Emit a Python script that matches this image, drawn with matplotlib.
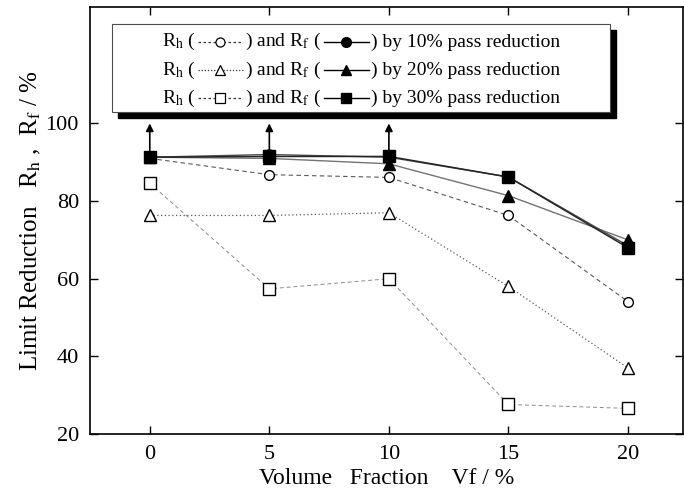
import numpy as np
import matplotlib
matplotlib.use('Agg')
import matplotlib.pyplot as plt
from matplotlib.patches import Rectangle
from matplotlib.lines import Line2D
from matplotlib.offsetbox import (TextArea, DrawingArea, HPacker, VPacker,
                                  AnchoredOffsetbox)

plt.rcParams['font.family'] = ['Liberation Serif', 'DejaVu Serif']
plt.rcParams['mathtext.fontset'] = 'stix'

vf = [0, 5, 10, 15, 20]

# Rh (open symbols)
rh_10 = [91.0, 86.8, 86.1, 76.3, 54.1]
rh_20 = [76.3, 76.3, 77.0, 58.0, 37.0]
rh_30 = [84.6, 57.4, 60.0, 27.6, 26.6]

# Rf (filled symbols)
rf_10 = [91.3, 92.0, 91.3, 86.2, 68.5]
rf_20 = [91.3, 91.0, 89.6, 81.4, 70.0]
rf_30 = [91.3, 91.5, 91.5, 86.2, 68.0]

arrow_x = [0, 5, 10]
arrow_from = 93.0
arrow_to = 100.0

reductions = ['10%', '20%', '30%']
markers = ['o', '^', 's']
rh_styles = [(0, (2, 2)), (0, (1, 1.5)), (0, (2, 2))]

W, H = 684, 496
fig = plt.figure(figsize=(6.84, 4.96), dpi=100)
ax = fig.add_axes([90 / W, 1 - 434 / H, (683 - 90) / W, (434 - 7) / H])

# Rh lines
ax.plot(vf, rh_10, ls=(0, (4, 3)), color='0.35', lw=0.8, marker='o', ms=7,
        mfc='white', mec='black', mew=1.0)
ax.plot(vf, rh_20, ls=(0, (1, 2)), color='0.35', lw=0.9, marker='^', ms=9,
        mfc='white', mec='black', mew=1.0)
ax.plot(vf, rh_30, ls=(0, (4, 3)), color='0.55', lw=0.7, marker='s', ms=8,
        mfc='white', mec='black', mew=1.0)

# Rf lines
ax.plot(vf, rf_20, ls='-', color='0.45', lw=1.0, marker='^', ms=9,
        mfc='black', mec='black')
ax.plot(vf, rf_10, ls='-', color='0.3', lw=1.0, marker='o', ms=8,
        mfc='black', mec='black')
ax.plot(vf, rf_30, ls='-', color='0.15', lw=1.1, marker='s', ms=8,
        mfc='black', mec='black')

for x in arrow_x:
    ax.annotate('', xy=(x, arrow_to), xytext=(x, arrow_from),
                arrowprops=dict(arrowstyle='-|>', color='black', lw=1.2,
                                mutation_scale=11, shrinkA=0, shrinkB=0))

ax.set_xlim(-2.5, 22.3)
ax.set_ylim(20, 130)
ax.set_xticks([0, 5, 10, 15, 20])
ax.set_yticks([20, 40, 60, 80, 100])
ax.tick_params(direction='in', top=True, right=True, length=6, width=1,
               labelsize=16, pad=8)
for s in ax.spines.values():
    s.set_linewidth(1.2)

ax.set_xlabel('Volume   Fraction    Vf / %', fontsize=17, labelpad=3)
ax.set_ylabel('Limit Reduction   R$_\\mathrm{h}$ ,  R$_\\mathrm{f}$ / %',
              fontsize=18, labelpad=2)

# legend box with shadow, in pixel positions
def px(x, y):
    return x / W, 1 - y / H

bx0, by0, bx1, by1 = 112, 24, 610, 112
shadow = Rectangle(px(bx0 + 6, by1 + 6), (bx1 - bx0) / W, (by1 - by0) / H,
                   transform=fig.transFigure, facecolor='black',
                   edgecolor='black', zorder=5)
box = Rectangle(px(bx0, by1), (bx1 - bx0) / W, (by1 - by0) / H,
                transform=fig.transFigure, facecolor='white',
                edgecolor='0.3', lw=0.8, zorder=6)
fig.patches.extend([shadow, box])

fs = 14
tp = dict(fontsize=fs)
rows = []
for red, mk, st in zip(reductions, markers, rh_styles):
    da1 = DrawingArea(34, 10, 0, 0)
    da1.add_artist(Line2D([1, 33], [5, 5], ls=st, color='0.2', lw=0.9))
    da1.add_artist(Line2D([17], [5], marker=mk, ms=6.5, mfc='white',
                          mec='black', mew=0.9))
    da2 = DrawingArea(34, 10, 0, 0)
    da2.add_artist(Line2D([1, 33], [5, 5], ls='-', color='black', lw=1.0))
    da2.add_artist(Line2D([17], [5], marker=mk, ms=7, mfc='black',
                          mec='black'))
    row = HPacker(children=[
        TextArea('R$_\\mathrm{h}$ (', textprops=tp), da1,
        TextArea(') and R$_\\mathrm{f}$ (', textprops=tp), da2,
        TextArea(') by ' + red + ' pass reduction', textprops=tp),
    ], align='center', pad=0, sep=1)
    rows.append(row)
pack = VPacker(children=rows, align='left', pad=0, sep=5)
anch = AnchoredOffsetbox(loc='center', child=pack, frameon=False,
                         bbox_to_anchor=px((bx0 + bx1) / 2, 70),
                         bbox_transform=fig.transFigure, borderpad=0, pad=0)
anch.set_zorder(7)
fig.add_artist(anch)

fig.savefig('out.png', dpi=100)
